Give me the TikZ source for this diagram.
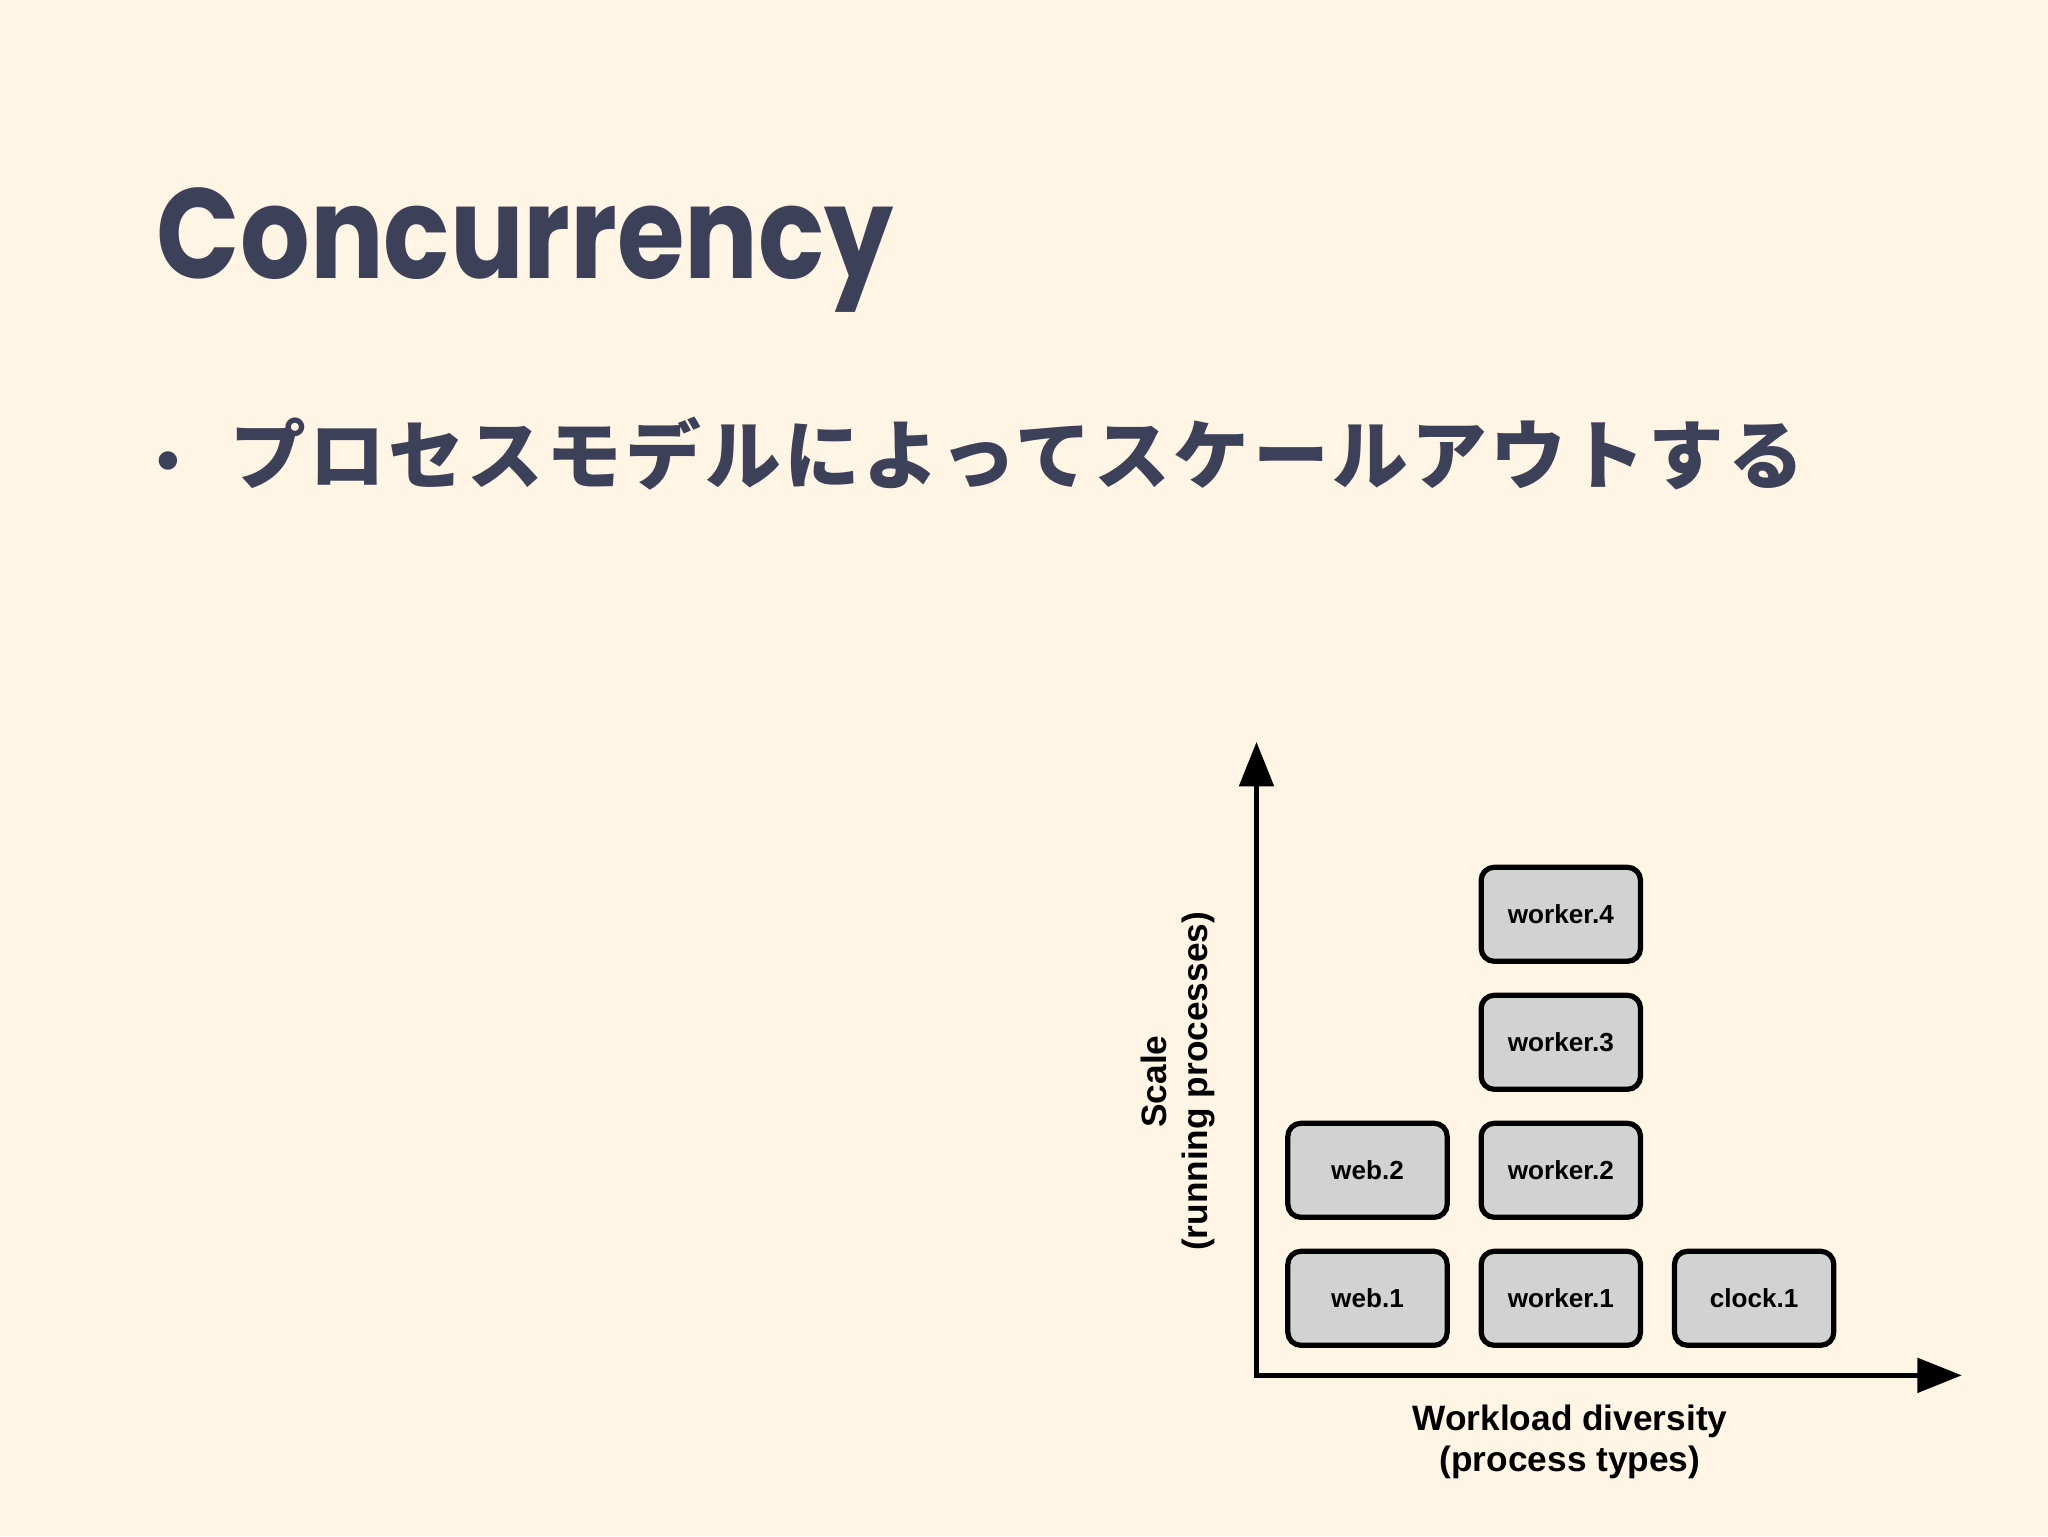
\documentclass[tikz,border=0pt]{standalone}
\usepackage{fontspec}
\setmainfont{Liberation Sans}
\newfontfamily\titlefont{Poppins}
\newfontfamily\jpfont[LetterSpace=4.5]{Noto Sans CJK JP}
\usetikzlibrary{arrows.meta}
\definecolor{bg}{HTML}{FFF5E4}
\definecolor{ink}{HTML}{3C4058}
\definecolor{boxg}{HTML}{D2D2D2}
\tikzset{x=1pt,y=-1pt,
 proc/.style={draw=black,line width=4pt,rounded corners=10pt,fill=boxg,minimum width=122pt,minimum height=72pt,inner sep=0pt,font=\fontsize{20}{22}\selectfont\bfseries},
 axis/.style={line width=4pt,-{Triangle[length=34pt,width=26pt]}},
 axlab/.style={align=center,font=\fontsize{27}{31}\selectfont\bfseries}}
\begin{document}
\begin{tikzpicture}
\fill[bg] (0,0) rectangle (1568,1176);
\useasboundingbox (0,0) rectangle (1568,1176);
\node[anchor=base west,inner sep=0,text=ink,xscale=0.855,font=\titlefont\fontsize{98}{100}\selectfont\bfseries] (title) at (120,213) {Concurrency};
\node[anchor=base west,inner sep=0,text=ink,font=\fontsize{52}{52}\selectfont] (bul) at (120,370) {•};
\node[anchor=base west,inner sep=0,text=ink,font=\jpfont\fontsize{58}{60}\selectfont\bfseries] (txt) at (176,370) {プロセスモデルによってスケールアウトする};
\coordinate (o) at (962,1053);
\coordinate (yt) at (962,568);
\coordinate (xt) at (1502,1053);
\draw[axis] ([yshift=2pt]o) -- (yt);
\draw[axis] ([xshift=-2pt]o) -- (xt);
\node[proc] (w1) at (1047,994) {web.1};
\node[proc] (w2) at (1047,896) {web.2};
\node[proc] (k1) at (1195,994) {worker.1};
\node[proc] (k2) at (1195,896) {worker.2};
\node[proc] (k3) at (1195,798) {worker.3};
\node[proc] (k4) at (1195,700) {worker.4};
\node[proc] (c1) at (1343,994) {clock.1};
\node[axlab,rotate=90] (ylab) at (902,828) {Scale\\(running processes)};
\node[axlab] (xlab) at (1202,1104) {Workload diversity\\(process types)};
\end{tikzpicture}
\end{document}
